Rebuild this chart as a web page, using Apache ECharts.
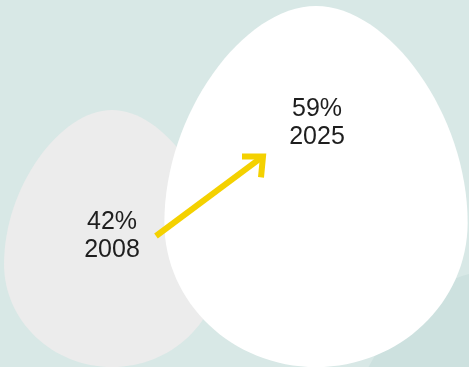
<!DOCTYPE html>
<html><head><meta charset="utf-8">
<script src="https://cdn.jsdelivr.net/npm/echarts@6/dist/echarts.min.js"></script>
<style>html,body{margin:0;padding:0;background:#d8e8e6}#c{width:469px;height:367px}</style>
</head><body><div id="c"></div>
<script>
// data
const years = [2008, 2025];
const shares = [42, 59];
const shareLabels = ['42%', '59%'];

// layout constants
const EGG = 'M50,0 C26,0 0,36 0,72 C0,98.5 22.4,120 50,120 C77.6,120 100,98.5 100,72 C100,36 74,0 50,0 Z';
const ASPECT = 1.19;
const LABEL_FRAC = [0.49, 0.325];
const FONT = '"Liberation Sans", Arial, sans-serif';

function eggBox(api, year, share) {
  const b = api.coord([year, 0]);
  const t = api.coord([year, share]);
  const h = b[1] - t[1];
  const w = h / ASPECT;
  return { cx: b[0], top: t[1], w: w, h: h };
}

const chart = echarts.init(document.getElementById('c'), null, { renderer: 'canvas' });
chart.setOption({
  backgroundColor: '#d8e8e6',
  animation: false,
  grid: { left: 112, right: 153, top: 0, bottom: 0 },
  xAxis: { type: 'value', min: years[0], max: years[1], show: false },
  yAxis: { type: 'value', min: 0, max: 60, show: false },
  series: [
    {
      type: 'custom',
      clip: false,
      silent: true,
      data: years.map((y, i) => [y, shares[i], i]),
      renderItem: function (params, api) {
        const i = api.value(2);
        const e = eggBox(api, api.value(0), api.value(1));
        const children = [];
        if (i === 1) {
          // faint decorative egg behind the larger one
          children.push({
            type: 'path',
            shape: { pathData: EGG, layout: 'cover', x: e.cx + 0.57 * e.w - e.w / 2, y: e.top + 0.735 * e.h, width: e.w, height: e.h },
            style: { fill: '#cde1df' }
          });
        }
        children.push({
          type: 'path',
          shape: { pathData: EGG, layout: 'cover', x: e.cx - e.w / 2, y: e.top, width: e.w, height: e.h },
          style: { fill: i === 0 ? '#ececec' : '#ffffff' }
        });
        children.push({
          type: 'text',
          z2: 10,
          style: {
            text: shareLabels[i] + '\n' + years[i],
            x: e.cx + (i === 1 ? 1 : 0),
            y: e.top + LABEL_FRAC[i] * e.h,
            align: 'center',
            verticalAlign: 'middle',
            fontSize: 25,
            lineHeight: 28,
            fontFamily: FONT,
            fill: '#1e1e1e'
          }
        });
        return { type: 'group', children: children };
      }
    },
    {
      type: 'custom',
      clip: false,
      silent: true,
      z: 5,
      data: [[years[0], shares[0], years[1], shares[1]]],
      renderItem: function (params, api) {
        const a = eggBox(api, api.value(0), api.value(1));
        const b = eggBox(api, api.value(2), api.value(3));
        const s = [a.cx + 44, a.top + LABEL_FRAC[0] * a.h];
        const t = [b.cx - 53, b.top + LABEL_FRAC[1] * b.h + 33];
        const style = { stroke: '#f4d100', lineWidth: 6, fill: null, lineJoin: 'miter', lineCap: 'butt' };
        return {
          type: 'group',
          children: [
            { type: 'line', shape: { x1: s[0], y1: s[1], x2: t[0] - 2, y2: t[1] + 1.5 }, style: style },
            { type: 'polyline', shape: { points: [[t[0] - 21, t[1]], t, [t[0] - 2, t[1] + 21]] }, style: style }
          ]
        };
      }
    }
  ]
});
</script>
</body></html>
